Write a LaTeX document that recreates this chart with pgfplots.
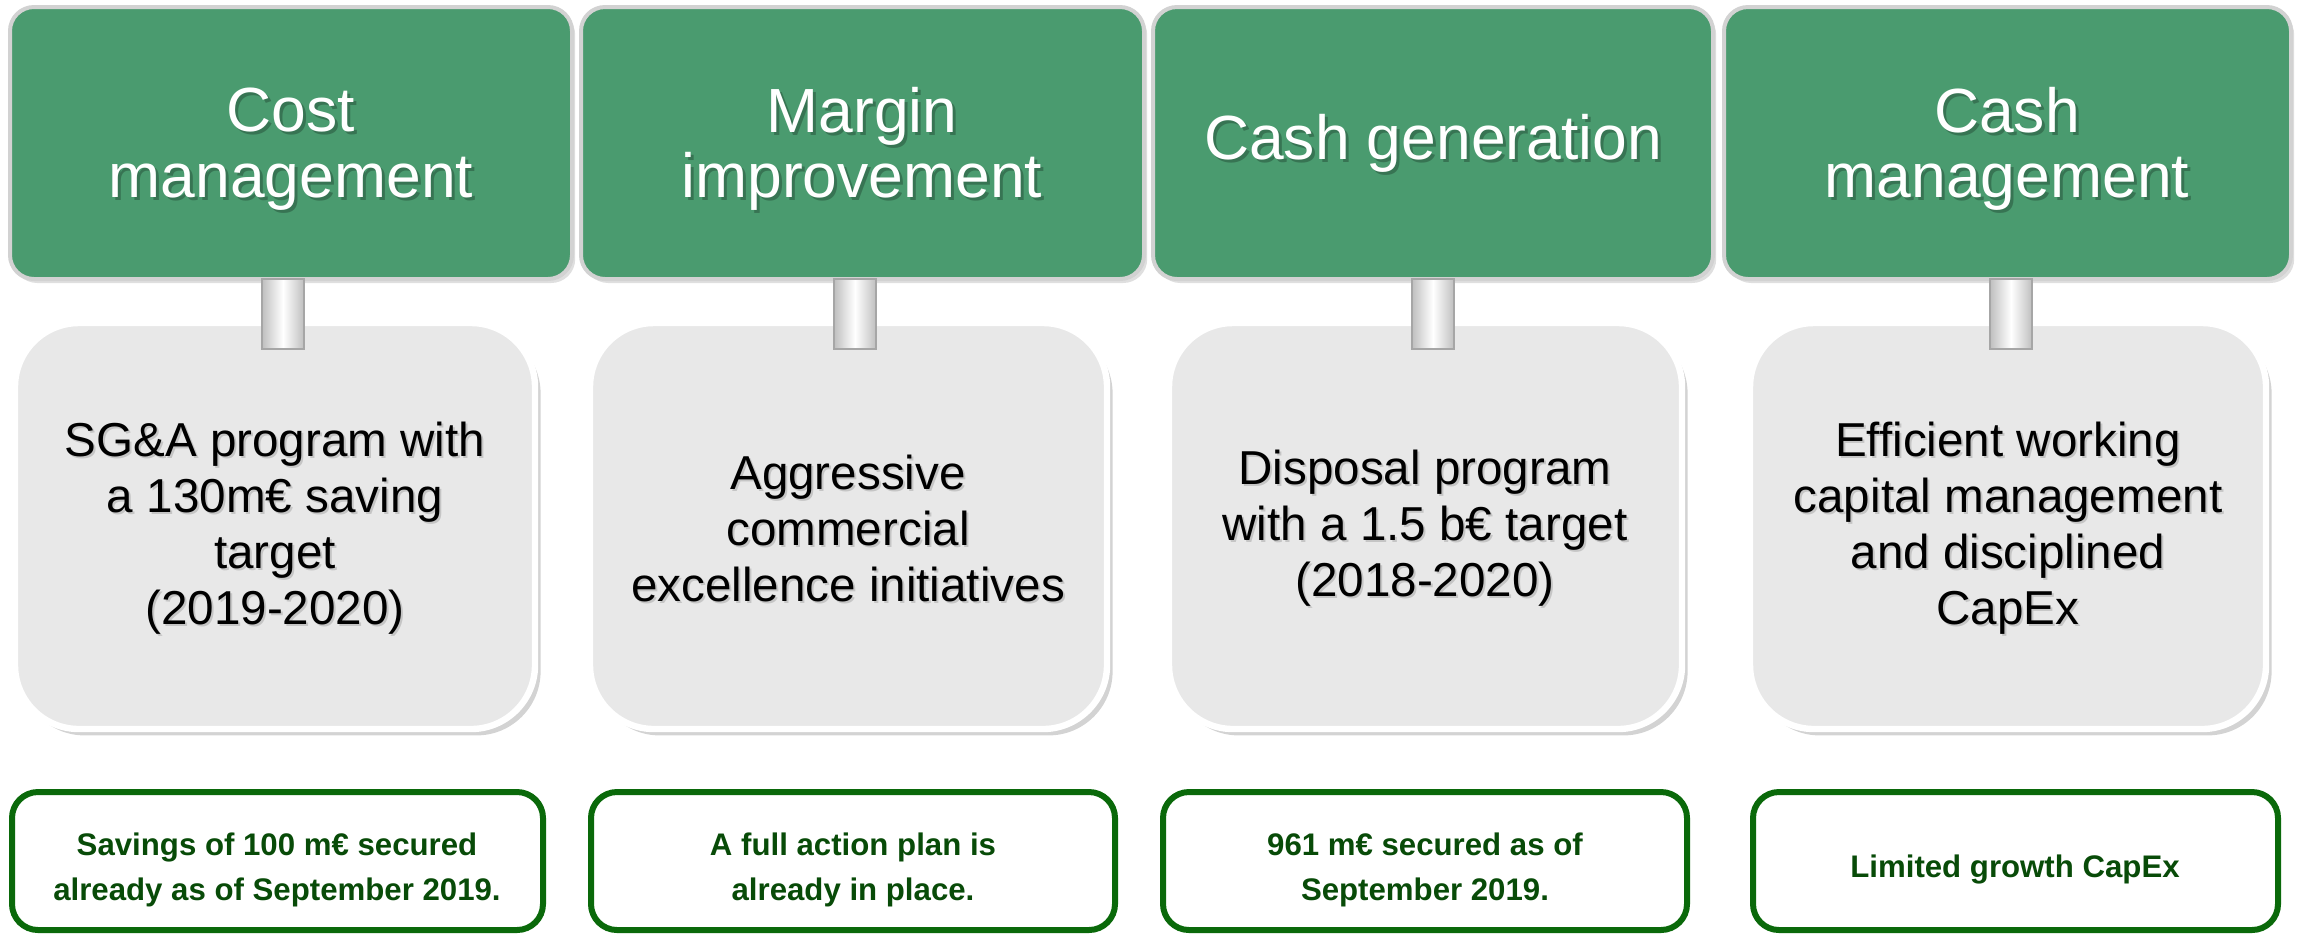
\documentclass[border=0pt]{standalone}
\usepackage{pgfplots}
\pgfplotsset{compat=1.18}
\usepackage{fontspec}
\setmainfont{Liberation Sans}
\usetikzlibrary{shadows}
\definecolor{topgreen}{RGB}{74,155,111}
\definecolor{boxgray}{RGB}{232,232,232}
\definecolor{frameg}{RGB}{10,105,10}
\definecolor{textg}{RGB}{8,75,8}
\begin{document}
\begin{tikzpicture}
\begin{axis}[scale only axis, width=575pt, height=233.75pt,
  xmin=0, xmax=2300, ymin=0, ymax=935, y dir=reverse,
  axis lines=none, ticks=none, clip=false]
\tikzset{
  gbox/.style={draw=gray!35, line width=1pt, fill=topgreen, rounded corners=6pt,
    drop shadow={shadow xshift=0.8pt, shadow yshift=-1pt, opacity=0.25}},
  sbox/.style={draw=white, line width=1.6pt, fill=boxgray, rounded corners=16pt,
    drop shadow={shadow xshift=1.4pt, shadow yshift=-1.6pt, opacity=0.35}},
  bbox/.style={draw=frameg, line width=1.5pt, fill=white, rounded corners=6.5pt},
  ttl/.style={text=white, align=center, font=\fontsize{15.6}{16.4}\selectfont},
  ttlsh/.style={text=black, opacity=0.25, align=center, font=\fontsize{15.6}{16.4}\selectfont},
  mid/.style={text=black, align=center, font=\fontsize{11.9}{14}\selectfont},
  midsh/.style={text=black, opacity=0.15, align=center, font=\fontsize{11.9}{14}\selectfont},
  bot/.style={text=textg, align=center, font=\bfseries\fontsize{7.8}{11.3}\selectfont},
  conn/.style={left color=gray!50, right color=gray!50, middle color=white},
}
\path (0,0) rectangle (2300,935);
% top green boxes
\draw[gbox] (10,7) rectangle (572,279);
\draw[gbox] (581,7) rectangle (1144,279);
\draw[gbox] (1153,7) rectangle (1713,279);
\draw[gbox] (1724,7) rectangle (2291,279);
% gray boxes
\draw[sbox] (15,323) rectangle (535,729);
\draw[sbox] (590,323) rectangle (1107,729);
\draw[sbox] (1169,323) rectangle (1682,729);
\draw[sbox] (1750,323) rectangle (2266,729);
% connectors
\shade[conn] (262,279) rectangle (304,349);
\draw[gray!70, line width=0.5pt] (262,279) rectangle (304,349);
\shade[conn] (834,279) rectangle (876,349);
\draw[gray!70, line width=0.5pt] (834,279) rectangle (876,349);
\shade[conn] (1412,279) rectangle (1454,349);
\draw[gray!70, line width=0.5pt] (1412,279) rectangle (1454,349);
\shade[conn] (1990,279) rectangle (2032,349);
\draw[gray!70, line width=0.5pt] (1990,279) rectangle (2032,349);
% bottom boxes
\draw[bbox] (12,792) rectangle (543,930);
\draw[bbox] (591,792) rectangle (1115,930);
\draw[bbox] (1163,792) rectangle (1687,930);
\draw[bbox] (1753,792) rectangle (2278,930);
% titles
\node[ttlsh] at (294,152) {Cost\\management};
\node[ttl] at (291,149) {Cost\\management};
\node[ttlsh] at (865,152) {Margin\\improvement};
\node[ttl] at (862,149) {Margin\\improvement};
\node[ttlsh] at (1436,146) {Cash generation};
\node[ttl] at (1433,143) {Cash generation};
\node[ttlsh] at (2010,152) {Cash\\management};
\node[ttl] at (2007,149) {Cash\\management};
% middle texts
\node[midsh] at (277,530) {SG\&A program with\\a 130m€ saving\\target\\(2019-2020)};
\node[mid] at (275,528) {SG\&A program with\\a 130m€ saving\\target\\(2019-2020)};
\node[midsh] at (850,530) {Aggressive\\commercial\\excellence initiatives};
\node[mid] at (848,528) {Aggressive\\commercial\\excellence initiatives};
\node[midsh] at (1427,530) {Disposal program\\with a 1.5 b€ target\\(2018-2020)};
\node[mid] at (1425,528) {Disposal program\\with a 1.5 b€ target\\(2018-2020)};
\node[midsh] at (2010,530) {Efficient working\\capital management\\and disciplined\\CapEx};
\node[mid] at (2008,528) {Efficient working\\capital management\\and disciplined\\CapEx};
% bottom texts
\node[bot] at (277,870) {Savings of 100 m€ secured\\already as of September 2019.};
\node[bot] at (853,870) {A full action plan is\\already in place.};
\node[bot] at (1425,870) {961 m€ secured as of\\September 2019.};
\node[bot] at (2015,869) {Limited growth CapEx};
\end{axis}
\end{tikzpicture}
\end{document}
